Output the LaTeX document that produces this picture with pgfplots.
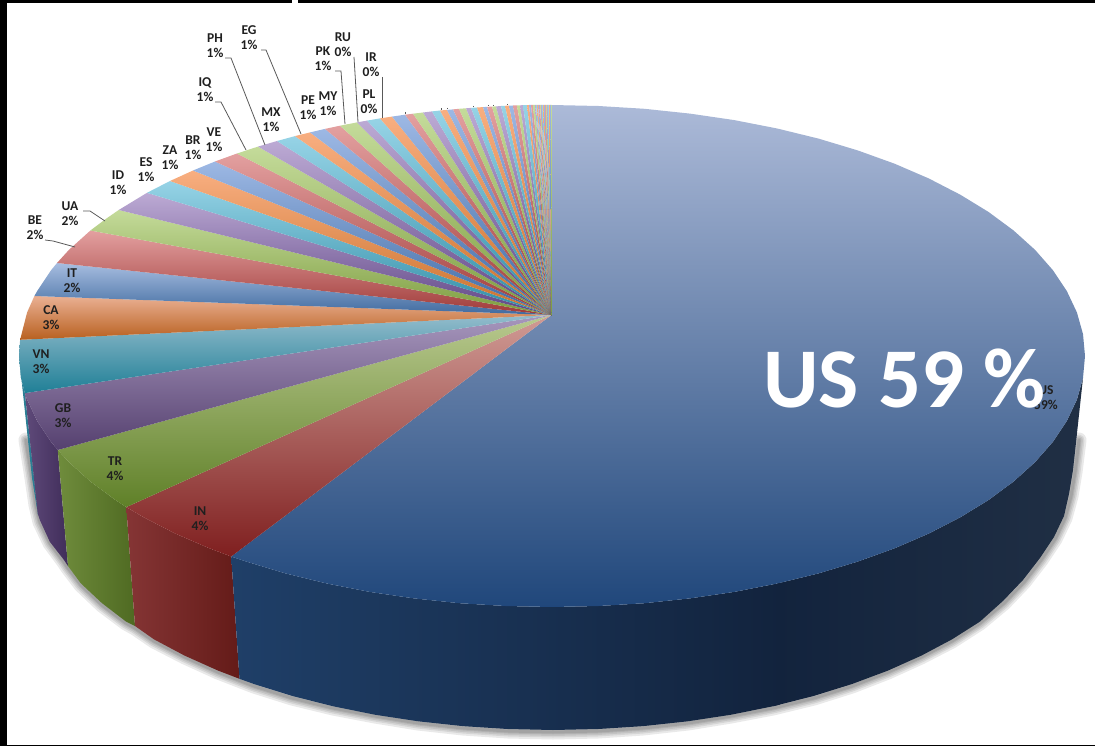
\documentclass[border=0pt]{standalone}
\usepackage{fontspec}
\setmainfont{Carlito}
\usepackage{pgfplots}
\pgfplotsset{compat=1.18}

% slice colours: <hue>t at the top of a slice, <hue>b at its bottom
\definecolor{Bt}{HTML}{9DB8E4}\definecolor{Bb}{HTML}{3E6AA3}
\definecolor{Rt}{HTML}{E3A0A0}\definecolor{Rb}{HTML}{9F3A38}
\definecolor{Gt}{HTML}{C4DB9A}\definecolor{Gb}{HTML}{7D9C3F}
\definecolor{Pt}{HTML}{BCAAD4}\definecolor{Pb}{HTML}{5F4585}
\definecolor{Tt}{HTML}{96D3E6}\definecolor{Tb}{HTML}{2F8CA5}
\definecolor{Ot}{HTML}{F8AE80}\definecolor{Ob}{HTML}{C9712B}
% the large slices
\definecolor{USt}{HTML}{ACBAD8}\definecolor{USb}{HTML}{20477B}
\definecolor{INt}{HTML}{D09B95}\definecolor{INb}{HTML}{7F1F1F}
\definecolor{TRt}{HTML}{B9C98F}\definecolor{TRb}{HTML}{5F8028}
\definecolor{GBt}{HTML}{A797BD}\definecolor{GBb}{HTML}{55406F}
\definecolor{VNt}{HTML}{93BCCC}\definecolor{VNb}{HTML}{1F7F96}
\definecolor{CAt}{HTML}{EAB093}\definecolor{CAb}{HTML}{B8601F}
\definecolor{ITt}{HTML}{A7BDE0}\definecolor{ITb}{HTML}{3F6A9F}
% side wall
\definecolor{wallVN}{HTML}{2B7F95}
\definecolor{wallGBl}{HTML}{5F4A7A}\definecolor{wallGBr}{HTML}{402D5A}
\definecolor{wallTRl}{HTML}{6F8C3C}\definecolor{wallTRr}{HTML}{4F6A22}
\definecolor{wallINl}{HTML}{853535}\definecolor{wallINr}{HTML}{641B18}
\definecolor{wallUSl}{HTML}{1F3F68}\definecolor{wallUSm}{HTML}{12233D}\definecolor{wallUSr}{HTML}{202F44}

% one slice of the top face: apex and two rim points
\newcommand{\slice}[3]{\addplot[draw=none,top color=#1t,bottom color=#1b] coordinates {(551.5,315) (#2) (#3)} --cycle;}
% a category label and its share
\newcommand{\lab}[3]{\node[font=\fontsize{13.5}{15}\selectfont\bfseries,text=black!88,align=center,inner sep=0pt] at (axis cs:#1,#2) {#3};}
% a leader line
\newcommand{\lead}[1]{\addplot[draw=black!65,line width=0.8pt] coordinates {#1};}

\begin{document}
\begin{tikzpicture}[x=1pt,y=1pt]
\path[use as bounding box] (0,0) rectangle (1095,746);
\begin{axis}[
  at={(0,0)},anchor=south west,
  scale only axis,width=1095pt,height=746pt,
  xmin=0,xmax=1095,ymin=0,ymax=746,y dir=reverse,
  hide axis,no marks,
]
% soft shadow under the side wall
\pgfplotsinvokeforeach{15,11,8,5,3}{
\addplot[draw=black,opacity=0.085,line width=#1pt,line join=round,line cap=round] coordinates {
 (1079,440)(1075,472)(1071,496)(1065,518)(1055,539)(1041,560)(1024,582)(1004,603)(980,623)(952,641)(921,657)(888,672)(852,686)(814,698)(773,708)(731,716)(688,723)(643,728)(598,731)(553,732)(508,731)(463,728)(418,723)(375,716)(333,708)(292,698)(254,686)(218,672)(185,657)(154,641)(135,628)(126,623)(102,605)(81,585)(68,568)(64,562)(50,543)(40,522)(36,505)(32,478)(26,440)};
}
% side wall
\addplot[draw=none,fill=wallVN] coordinates {(19,356)(21,378)(24.9,393.1)(38,515)(32,478)} --cycle;
\addplot[draw=none,left color=wallGBl,right color=wallGBr] coordinates {(24.9,393.1)(27.1,399.6)(37.2,421)(51.1,441.8)(57.8,450)(68,566)(64,560)(49.8,541.7)(39.9,520.1)(37.7,513.5)} --cycle;
\addplot[draw=none,left color=wallTRl,right color=wallTRr] coordinates {(57.8,450)(68.9,462.1)(90.4,481.5)(115.4,500)(126.3,507.1)(135,626)(126.2,621.7)(101.8,603)(80.8,583.3)(68,566)} --cycle;
\addplot[draw=none,left color=wallINl,right color=wallINr] coordinates {(126.3,507.1)(143.7,517.3)(175.1,533.5)(209.4,548.3)(231.2,556.5)(239.5,678.8)(218.1,670.6)(184.6,655.6)(153.9,639.3)(135,626)} --cycle;
% the right part is laid first so that the left part closes the joint
\addplot[draw=none,left color=wallUSm,right color=wallUSr] coordinates {(777.2,583.5)(818.5,573.4)(857.7,561.6)(894.6,548.3)(928.9,533.5)(960.3,517.3)(988.6,500)(1013.6,481.5)(1035.1,462.1)(1052.9,441.8)(1066.8,421)(1076.9,399.6)(1083,377.9)(1073,470)(1069,494)(1064,516)(1054,537)(1040,558)(1023,580)(1003,601)(979.8,621.7)(952.1,639.3)(921.4,655.6)(887.9,670.6)(851.8,684.1)(813.5,696)(773.2,706.2)} --cycle;
\addplot[draw=none,left color=wallUSl,right color=wallUSm] coordinates {(231.2,556.5)(246.4,561.6)(285.5,573.4)(326.8,583.5)(369.7,591.9)(414.1,598.4)(459.5,603.2)(505.5,606)(552,607)(598.5,606)(644.5,603.2)(689.9,598.4)(734.3,591.9)(777.2,583.5)(782,582.5)(780,704.5)(773.2,706.2)(731.2,714.7)(687.8,721.3)(643.4,726.1)(598.4,729)(553,730)(507.6,729)(462.6,726.1)(418.2,721.3)(374.8,714.7)(332.8,706.2)(292.5,696)(254.2,684.1)(239.5,678.8)} --cycle;

% top face: the large slices first
\addplot[draw=none,top color=USt,bottom color=USb] coordinates {(551.5,315)(551.5,105)(598.5,106)(644.5,108.8)(689.9,113.6)(734.3,120.1)(777.2,128.5)(818.5,138.6)(857.7,150.4)(894.6,163.7)(928.9,178.5)(960.3,194.7)(988.6,212)(1013.6,230.5)(1035.1,249.9)(1052.9,270.2)(1066.8,291)(1076.9,312.4)(1083,334.1)(1085,356)(1083,377.9)(1076.9,399.6)(1066.8,421)(1052.9,441.8)(1035.1,462.1)(1013.6,481.5)(988.6,500)(960.3,517.3)(928.9,533.5)(894.6,548.3)(857.7,561.6)(818.5,573.4)(777.2,583.5)(734.3,591.9)(689.9,598.4)(644.5,603.2)(598.5,606)(552,607)(505.5,606)(459.5,603.2)(414.1,598.4)(369.7,591.9)(326.8,583.5)(285.5,573.4)(246.4,561.6)(231.2,556.5)} --cycle;
\addplot[draw=none,top color=INt,bottom color=INb] coordinates {(551.5,315)(231.2,556.5)(209.4,548.3)(175.1,533.5)(143.7,517.3)(126.3,507.1)} --cycle;
\addplot[draw=none,top color=TRt,bottom color=TRb] coordinates {(551.5,315)(126.3,507.1)(115.4,500)(90.4,481.5)(68.9,462.1)(57.8,450)} --cycle;
\addplot[draw=none,top color=GBt,bottom color=GBb] coordinates {(551.5,315)(57.8,450)(51.1,441.8)(37.2,421)(27.1,399.6)(24.9,393.1)} --cycle;
\addplot[draw=none,top color=VNt,bottom color=VNb] coordinates {(551.5,315)(24.9,393.1)(21,377.9)(19,356)(20.1,339.8)} --cycle;
\addplot[draw=none,top color=CAt,bottom color=CAb] coordinates {(551.5,315)(20.1,339.8)(27.1,312.4)(34.4,296)} --cycle;
\addplot[draw=none,top color=ITt,bottom color=ITb] coordinates {(551.5,315)(34.4,296)(37.2,291)(51.1,270.2)(57,263)} --cycle;
\addplot[draw=none,top color=Rt,bottom color=Rb] coordinates {(551.5,315)(57,263)(68.9,249.9)(90.4,230.5)} --cycle;
\addplot[draw=none,top color=Gt,bottom color=Gb] coordinates {(551.5,315)(90.4,230.5)(105,219.5)(118.7,210)} --cycle;

% the narrow slices, clockwise
\slice{P}{118.7,210}{147,192.8}
\slice{T}{147,192.8}{170,181}
\slice{O}{170,181}{193,170.5}
\slice{B}{193,170.5}{215,161.5}
\slice{R}{215,161.5}{237,153.5}
\slice{G}{237,153.5}{258,146.6}
\slice{P}{258,146.6}{277,141}
\slice{T}{277,141}{295,136.1}
\slice{O}{295,136.1}{310,132.4}
\slice{B}{310,132.4}{325,128.9}
\slice{R}{325,128.9}{340,125.7}
\slice{G}{340,125.7}{357,122.4}
\slice{P}{357,122.4}{367,120.6}
\slice{T}{367,120.6}{380,118.4}
\slice{O}{380,118.4}{392,116.6}
\slice{B}{392,116.6}{405,114.7}
\slice{R}{405,114.7}{413,113.7}
\slice{G}{413,113.7}{423,112.5}
\slice{P}{423,112.5}{432,111.4}
\slice{T}{432,111.4}{440,110.5}
\slice{O}{440,110.5}{447,109.9}
\slice{B}{447,109.9}{453,109.4}
\slice{R}{453,109.4}{459,108.8}
\slice{G}{459,108.8}{466,108.3}
\slice{P}{466,108.3}{471,107.9}
\slice{T}{471,107.9}{477,107.5}
\slice{O}{477,107.5}{483,107.1}
\slice{B}{483,107.1}{487,106.9}
\slice{R}{487,106.9}{492,106.6}
\slice{G}{492,106.6}{496,106.4}
\slice{P}{496,106.4}{501,106}
\slice{T}{501,106}{505,105.8}
\slice{O}{505,105.8}{509,105.6}
\slice{B}{509,105.6}{513,105.5}
\slice{R}{513,105.5}{517,105.4}
\slice{G}{517,105.4}{520,105.3}
\slice{P}{520,105.3}{523,105.2}
\slice{T}{523,105.2}{527,105.1}
\slice{O}{527,105.1}{529,105}
\slice{B}{529,105}{531,105}
\slice{R}{531,105}{533,105}
\slice{G}{533,105}{535,105}
% the smallest countries, about a pixel wide at the rim
\slice{P}{535,105}{536,105}
\slice{T}{536,105}{537,105}
\slice{O}{537,105}{538,105}
\slice{B}{538,105}{539,105}
\slice{R}{539,105}{540,105}
\slice{G}{540,105}{541,105}
\slice{P}{541,105}{542,105}
\slice{T}{542,105}{543,105}
\slice{O}{543,105}{544,105}
\slice{B}{544,105}{545,105}
\slice{R}{545,105}{546,105}
\slice{G}{546,105}{547,105}
\slice{P}{547,105}{548,105}
\slice{T}{548,105}{549,105}
\slice{O}{549,105}{550,105}
\slice{B}{550,105}{551,105}
\slice{G}{551,105}{551.5,105}

% leader lines
\lead{(261,50)(266,50)(301,134)}
\lead{(225,58)(231,58)(265,145)}
\lead{(215,102)(221,102)(246,150)}
\lead{(45,240)(53,241)(75,247)}
\lead{(83,211)(90,211)(105,221)}
\lead{(335,71)(341,71)(345,124)}
\lead{(354,57)(358,122)}
\lead{(382,77)(382,118)}
% stubs of the leaders that carry no label
\lead{(405,112)(405,114)}
\lead{(441,108.5)(441,110)}
\lead{(447,108)(447,109.5)}
\lead{(473,106)(473,107.5)}
\lead{(488,105)(488,106.5)}
\lead{(493,105)(493,106.5)}
\lead{(507,104)(507,105.5)}

% labels
\lab{249}{38}{EG\\1\%}
\lab{215}{46}{PH\\1\%}
\lab{205}{90}{IQ\\1\%}
\lab{35}{228}{BE\\2\%}
\lab{70}{214}{UA\\2\%}
\lab{118}{183}{ID\\1\%}
\lab{146}{170}{ES\\1\%}
\lab{170}{158}{ZA\\1\%}
\lab{193}{148}{BR\\1\%}
\lab{214}{140}{VE\\1\%}
\lab{271}{120}{MX\\1\%}
\lab{308}{108}{PE\\1\%}
\lab{328}{104}{MY\\1\%}
\lab{323}{59}{PK\\1\%}
\lab{343}{45}{RU\\0\%}
\lab{371}{65}{IR\\0\%}
\lab{369}{102}{PL\\0\%}
\lab{72}{281}{IT\\2\%}
\lab{51}{318}{CA\\3\%}
\lab{41}{362}{VN\\3\%}
\lab{63}{416}{GB\\3\%}
\lab{115}{469}{TR\\4\%}
\lab{200}{519}{IN\\4\%}
\lab{1046}{398}{US\\59\%}
\node[font=\fontsize{85}{85}\selectfont\bfseries,text=white,anchor=base,inner sep=0pt] at (axis cs:904.5,407) {US 59 \%};

% black frame pieces along the edges
\addplot[draw=none,fill=black] coordinates {(0,0)(7,0)(7,746)(0,746)} --cycle;
\addplot[draw=none,fill=black] coordinates {(0,0)(292,0)(292,3)(0,3)} --cycle;
\addplot[draw=none,fill=black] coordinates {(298,0)(1095,0)(1095,3)(298,3)} --cycle;
\addplot[draw=none,fill=black] coordinates {(0,744.5)(1095,744.5)(1095,746)(0,746)} --cycle;
\end{axis}
\end{tikzpicture}
\end{document}
